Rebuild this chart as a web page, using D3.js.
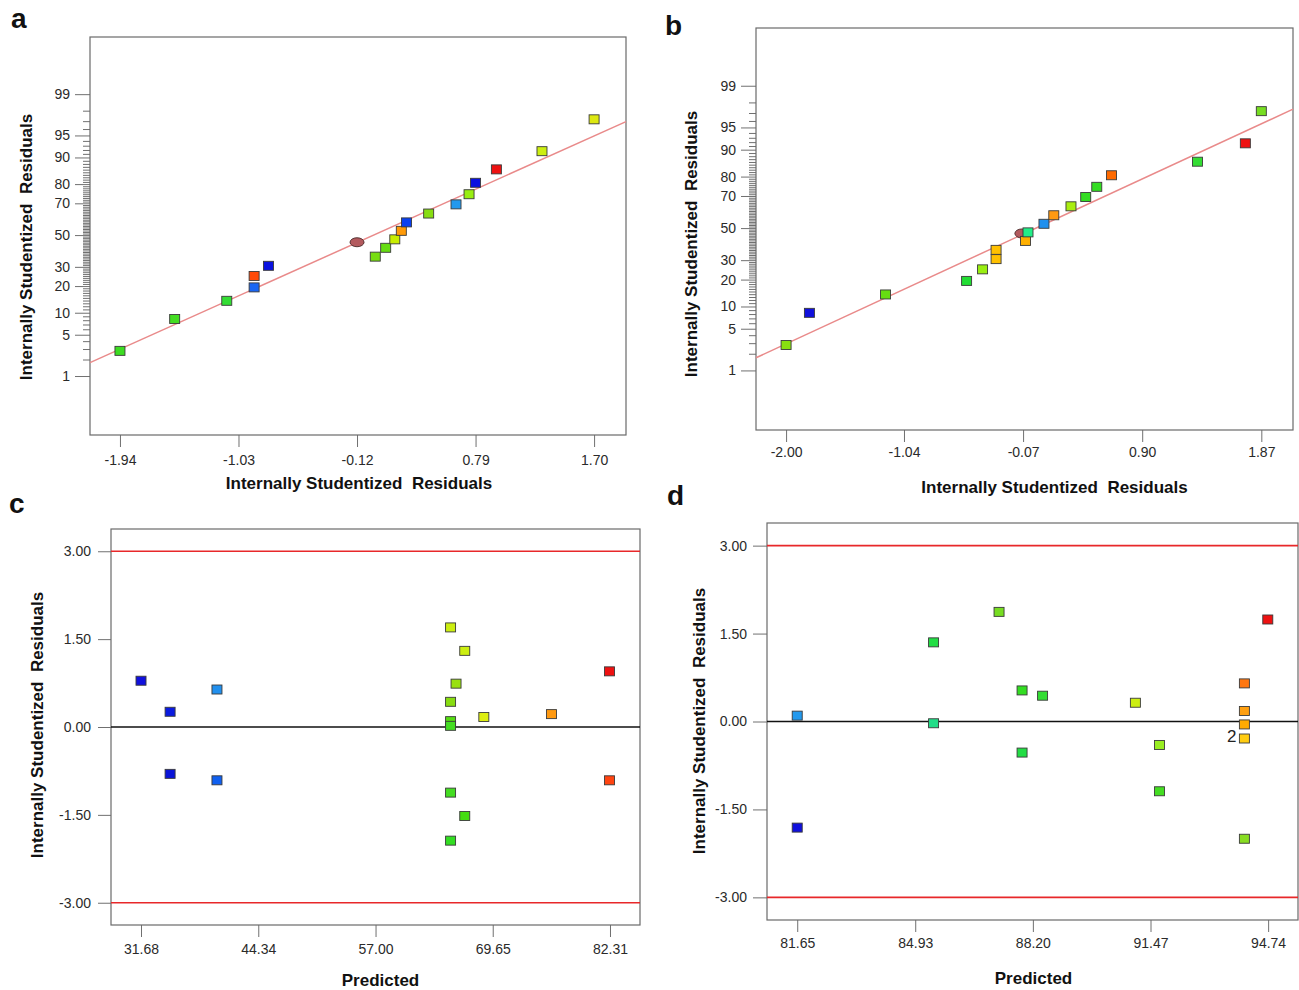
<!DOCTYPE html>
<html lang="en">
<head>
<meta charset="utf-8">
<title>Residual plots</title>
<script src="https://cdn.jsdelivr.net/npm/d3@7"></script>
<style>
  body { margin:0; background:#fff; }
  text { font-family:"Liberation Sans", Arial, sans-serif; }
  .tick text { font-size:14px; fill:#2a2a2a; }
  .tick line { stroke:#707070; }
  .ttl { font-size:17px; font-weight:bold; fill:#111; white-space:pre; }
  .lbl { font-size:28px; font-weight:bold; fill:#111; }
</style>
</head>
<body>
<svg id="chart" width="1299" height="990"></svg>
<script>
// ---- panel a : normal plot of residuals (response 1)
var aResid = [-1.94, -1.52, -1.12, -0.91, -0.91, -0.80, 0.02, 0.10, 0.17, 0.22, 0.26, 0.43, 0.64, 0.74, 0.79, 0.95, 1.30, 1.70];
var aColor = ['#3ddc22','#44dd22','#33dd33','#1a66f2','#ff4a08','#0a12e0','#77dd11','#66dd11','#c8ee00','#ff9a08','#0a40f0','#88dd11','#2299ee','#99ee11','#0a10e0','#ee1111','#ccee11','#dde811'];
var aFit = [[-2.17, 1.76], [1.945, 96.95]];
var aMark = [-0.12, 45.3];
var aTicks = [-1.94, -1.03, -0.12, 0.79, 1.70];

// ---- panel b : normal plot of residuals (response 2)
var bResid = [-2.00, -1.81, -1.19, -0.53, -0.40, -0.29, -0.29, -0.05, -0.03, 0.10, 0.18, 0.32, 0.44, 0.53, 0.65, 1.35, 1.74, 1.87];
var bColor = ['#88e011','#1010dd','#66dd11','#22dd33','#99ee11','#ffc000','#ffc000','#ffb000','#22ee88','#2090ee','#ff9911','#aaee11','#33dd22','#33dd22','#ff6a00','#33dd33','#ee1111','#77dd22'];
var bFit = [[-2.245, 1.70], [2.128, 97.4]];
var bMark = [-0.08, 46.5];
var bTicks = [-2.00, -1.04, -0.07, 0.90, 1.87];

// normal % probability (same for a and b, 18 runs)
var probPct = [2.8, 8.3, 13.9, 19.4, 25.0, 30.6, 36.1, 41.7, 47.2, 52.8, 58.3, 63.9, 69.4, 75.0, 80.6, 86.1, 91.7, 97.2];
var probMajor = [1, 5, 10, 20, 30, 50, 70, 80, 90, 95, 99];

// ---- panel c : residuals vs predicted (response 1)
var cPred = [31.68, 34.82, 34.82, 39.88, 39.88, 65.10, 66.63, 65.69, 65.10, 65.10, 65.10, 68.69, 75.99, 82.26, 82.26, 65.10, 66.63, 65.10];
var cResid = [0.79, 0.26, -0.80, 0.64, -0.91, 1.70, 1.30, 0.74, 0.43, 0.10, 0.02, 0.17, 0.22, 0.95, -0.91, -1.12, -1.52, -1.94];
var cColor = ['#1010dd','#0a1ae0','#0a14d8','#2290ee','#1060f0','#ccee11','#ccee11','#99e011','#88dd11','#55dd11','#44dd22','#ddee11','#ff9911','#ee1111','#ff4411','#44dd22','#44dd11','#33dd22'];
var cTicks = [31.68, 44.34, 57.00, 69.65, 82.31];

// ---- panel d : residuals vs predicted (response 2)
var dPred = [81.65, 81.65, 85.44, 85.44, 87.26, 87.90, 88.47, 87.90, 91.05, 91.72, 91.72, 94.08, 94.08, 94.08, 94.08, 94.08, 94.73];
var dResid = [0.10, -1.81, 1.35, -0.03, 1.87, 0.53, 0.44, -0.53, 0.32, -0.40, -1.19, 0.65, 0.18, -0.05, -0.29, -2.00, 1.74];
var dColor = ['#2299ee','#1010dd','#22dd44','#22dd88','#77dd22','#33dd22','#33dd33','#22dd44','#ccee11','#99ee22','#44dd22','#ff7711','#ffa011','#ffaa00','#ffcc11','#88dd22','#ee1111'];
var dCount = [null,null,null,null,null,null,null,null,null,null,null,null,null,null,'2',null,null];
var dTicks = [81.65, 84.93, 88.20, 91.47, 94.74];

var residTicks = [-3, -1.5, 0, 1.5, 3];
var limits = [-3, 3];

// inverse normal cdf (Acklam), used for the probability axis
function probit(p){
	var a=[-39.69683028665376,220.9460984245205,-275.9285104469687,138.3577518672690,-30.66479806614716,2.506628277459239];
	var b=[-54.47609879822406,161.5858368580409,-155.6989798598866,66.80131188771972,-13.28068155288572];
	var c=[-0.007784894002430293,-0.3223964580411365,-2.400758296070150,-2.549732539343734,4.374664141464968,2.938163982698783];
	var d=[0.007784695709041462,0.3224671290700398,2.445134137142996,3.754408661907416];
	var q,r;
	if(p<0.02425){
		q=Math.sqrt(-2*Math.log(p));
		return (((((c[0]*q+c[1])*q+c[2])*q+c[3])*q+c[4])*q+c[5])/((((d[0]*q+d[1])*q+d[2])*q+d[3])*q+1);
	}
	if(p>1-0.02425){
		q=Math.sqrt(-2*Math.log(1-p));
		return -(((((c[0]*q+c[1])*q+c[2])*q+c[3])*q+c[4])*q+c[5])/((((d[0]*q+d[1])*q+d[2])*q+d[3])*q+1);
	}
	q=p-0.5; r=q*q;
	return (((((a[0]*r+a[1])*r+a[2])*r+a[3])*r+a[4])*r+a[5])*q/(((((b[0]*r+b[1])*r+b[2])*r+b[3])*r+b[4])*r+1);
}
function z(pct){ return probit(pct/100); }
// plain hyphen minus like the original software
function fmt2(d){ return d.toFixed(2); }

var svg = d3.select("#chart");

function styleAxis(g){
	g.select(".domain").remove();
}

function frame(box){
	svg.append("rect")
		.attr("x",box.x0).attr("y",box.y0)
		.attr("width",box.x1-box.x0).attr("height",box.y1-box.y0)
		.attr("fill","none").attr("stroke","#6a6a6a").attr("stroke-width",1.2);
}

function squares(x,y,xs,ys,cols){
	svg.append("g").selectAll("rect")
		.data(xs)
		.enter()
		.append("rect")
		.attr("x",function(d){ return x(d)-5; })
		.attr("y",function(d,i){ return y(ys[i])-4.5; })
		.attr("width",10).attr("height",9)
		.attr("fill",function(d,i){ return cols[i]; })
		.attr("stroke","#3a3a3a").attr("stroke-width",0.9);
}

function titles(box,xt,xtY,yt,ytX,ytY,lbl,lx,ly){
	svg.append("text").attr("class","ttl")
		.attr("x",(box.x0+box.x1)/2+box.xtOff).attr("y",xtY)
		.attr("text-anchor","middle").text(xt);
	svg.append("text").attr("class","ttl")
		.attr("transform","translate("+ytX+","+ytY+") rotate(-90)")
		.attr("text-anchor","middle").text(yt);
	svg.append("text").attr("class","lbl").attr("x",lx).attr("y",ly).text(lbl);
}

function probPanel(box,resid,cols,fit,mark,ticks){
	var x = d3.scaleLinear().domain(box.xd).range([box.x0,box.x1]);
	var y = d3.scaleLinear().domain([-3.30,3.27]).range([box.y1,box.y0]);
	var yp = function(p){ return y(z(p)); };

	var minor = d3.range(1,100).filter(function(p){ return probMajor.indexOf(p)<0; });
	svg.append("g").attr("transform","translate("+box.x0+",0)")
		.call(d3.axisLeft(y).tickValues(minor.map(z)).tickSize(7).tickFormat(""))
		.call(styleAxis);
	svg.append("g").attr("transform","translate("+box.x0+",0)")
		.call(d3.axisLeft(y).tickValues(probMajor.map(z)).tickSize(15).tickPadding(box.yPad)
			.tickFormat(function(d,i){ return probMajor[i]; }))
		.call(styleAxis);
	svg.append("g").attr("transform","translate(0,"+box.y1+")")
		.call(d3.axisBottom(x).tickValues(ticks).tickSize(12).tickPadding(box.xPad).tickFormat(fmt2))
		.call(styleAxis);

	frame(box);

	var line = d3.line()
		.x(function(d){ return x(d[0]); })
		.y(function(d){ return yp(d[1]); });
	svg.append("path").datum(fit).attr("d",line)
		.attr("fill","none").attr("stroke","#e98a8a").attr("stroke-width",1.5);

	svg.append("ellipse")
		.attr("cx",x(mark[0])).attr("cy",yp(mark[1]))
		.attr("rx",7).attr("ry",4.5)
		.attr("fill","#b35a5e").attr("stroke","#4a2a2a").attr("stroke-width",0.9);

	squares(x,yp,resid,probPct,cols);
}

function residPanel(box,pred,resid,cols,ticks,counts){
	var x = d3.scaleLinear().domain(box.xd).range([box.x0,box.x1]);
	var y = d3.scaleLinear().domain(box.yd).range([box.y1,box.y0]);

	svg.append("g").attr("transform","translate("+box.x0+",0)")
		.call(d3.axisLeft(y).tickValues(residTicks).tickSize(box.yTick).tickPadding(box.yPad).tickFormat(fmt2))
		.call(styleAxis);
	svg.append("g").attr("transform","translate(0,"+box.y1+")")
		.call(d3.axisBottom(x).tickValues(ticks).tickSize(12).tickPadding(box.xPad).tickFormat(fmt2))
		.call(styleAxis);

	frame(box);

	svg.append("g").selectAll("line")
		.data(limits)
		.enter()
		.append("line")
		.attr("x1",box.x0).attr("x2",box.x1)
		.attr("y1",function(d){ return y(d); }).attr("y2",function(d){ return y(d); })
		.attr("stroke","#e8282a").attr("stroke-width",1.6);
	svg.append("line")
		.attr("x1",box.x0).attr("x2",box.x1)
		.attr("y1",y(0)).attr("y2",y(0))
		.attr("stroke","#111").attr("stroke-width",1.6);

	squares(x,y,pred,resid,cols);

	if(counts){
		var idx = d3.range(pred.length).filter(function(i){ return counts[i]; });
		svg.append("g").selectAll("text")
			.data(idx)
			.enter()
			.append("text")
			.attr("x",function(i){ return x(pred[i])-8; })
			.attr("y",function(i){ return y(resid[i])+3; })
			.attr("text-anchor","end")
			.style("font-size","17px").style("fill","#222")
			.text(function(i){ return counts[i]; });
	}
}

var resT = "Internally Studentized  Residuals";

var boxA = {x0:90,x1:626,y0:37,y1:435,xd:[-2.17,1.945],yPad:5,xPad:8,xtOff:1};
probPanel(boxA,aResid,aColor,aFit,aMark,aTicks);
titles(boxA,resT,489,resT,32,247,"a",11,28);

var boxB = {x0:756,x1:1293,y0:28,y1:430,xd:[-2.245,2.128],yPad:5,xPad:5,xtOff:30};
probPanel(boxB,bResid,bColor,bFit,bMark,bTicks);
titles(boxB,resT,493,resT,697,244,"b",665,35);

var boxC = {x0:111,x1:640,y0:529,y1:925,xd:[28.44,85.55],yd:[-3.38,3.38],yTick:13,yPad:7,xPad:7,xtOff:5};
residPanel(boxC,cPred,cResid,cColor,cTicks,null);
titles(boxC,"Predicted",986,resT,43,725,"c",9,513);

var boxD = {x0:767,x1:1298,y0:523,y1:920,xd:[80.81,95.57],yd:[-3.386,3.386],yTick:14,yPad:6,xPad:6,xtOff:1};
residPanel(boxD,dPred,dResid,dColor,dTicks,dCount);
titles(boxD,"Predicted",984,resT,705,721,"d",667,505);
</script>
</body>
</html>
